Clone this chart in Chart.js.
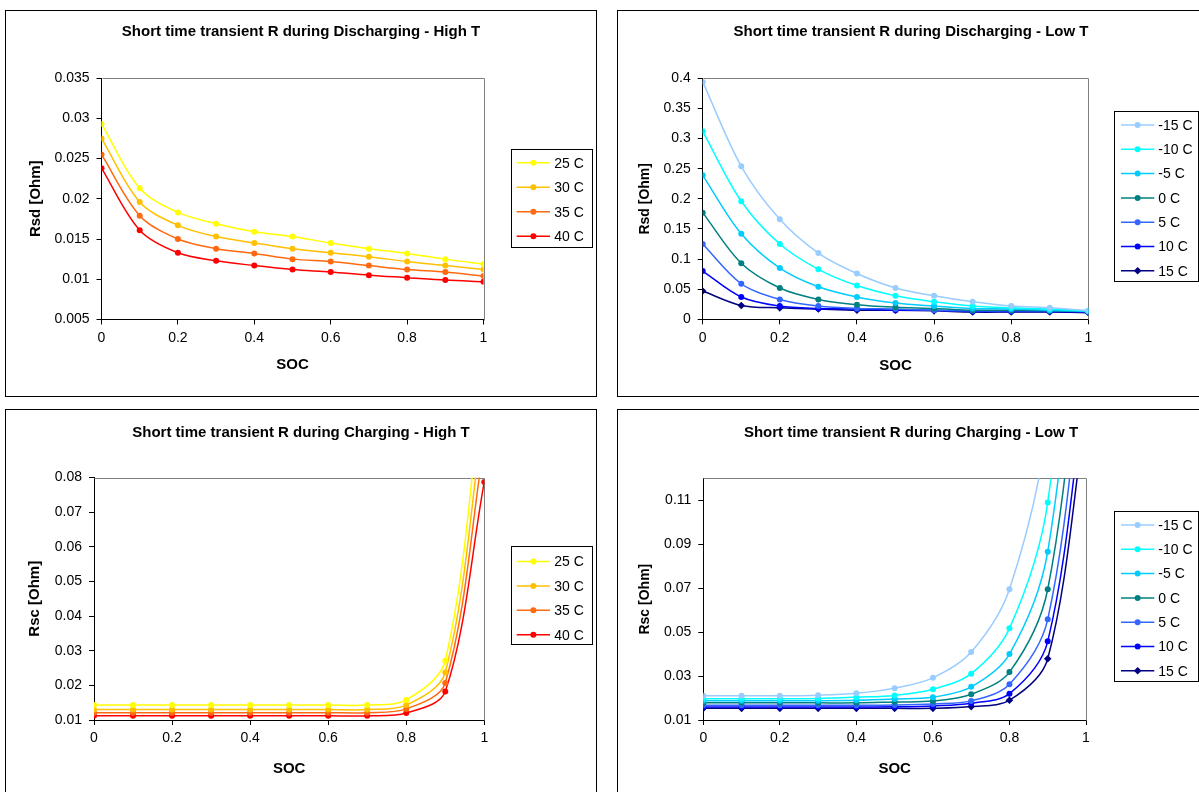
<!DOCTYPE html>
<html><head><meta charset="utf-8">
<script src="https://cdn.jsdelivr.net/npm/chart.js@4.4.1/dist/chart.umd.min.js"></script>
<style>
html,body{margin:0;padding:0;background:#fff}
body{width:1199px;height:792px;overflow:hidden;position:relative}
.box{position:absolute;border:1px solid #000;box-sizing:border-box}
canvas{position:absolute}
</style></head><body>
<div class="box" style="left:5px;top:10px;width:592px;height:387px"></div>
<div class="box" style="left:617px;top:10px;width:592px;height:387px"></div>
<div class="box" style="left:5px;top:409px;width:592px;height:400px"></div>
<div class="box" style="left:617px;top:409px;width:592px;height:400px"></div>
<canvas id="c1" width="592" height="387" style="left:5px;top:10px"></canvas>
<canvas id="c2" width="592" height="387" style="left:617px;top:10px"></canvas>
<canvas id="c3" width="592" height="387" style="left:5px;top:409px"></canvas>
<canvas id="c4" width="592" height="387" style="left:617px;top:409px"></canvas>
<script>
// ---------- data ----------
const soc = [0, 0.1, 0.2, 0.3, 0.4, 0.5, 0.6, 0.7, 0.8, 0.9, 1];
const xTicks = [0, 0.2, 0.4, 0.6, 0.8, 1];

const highLabels = ['25 C', '30 C', '35 C', '40 C'];
const lowLabels = ['-15 C', '-10 C', '-5 C', '0 C', '5 C', '10 C', '15 C'];

// Discharging - High T (Rsd)
const dH25 = [0.0293, 0.0213, 0.0183, 0.0169, 0.0159, 0.0153, 0.0145, 0.0138, 0.0132, 0.0125, 0.0119];
const dH30 = [0.0275, 0.0196, 0.0167, 0.0153, 0.0145, 0.0138, 0.0133, 0.0128, 0.0122, 0.0117, 0.0112];
const dH35 = [0.0255, 0.0179, 0.0150, 0.0138, 0.0132, 0.0125, 0.0122, 0.0117, 0.0112, 0.0109, 0.0104];
const dH40 = [0.0238, 0.0161, 0.0133, 0.0123, 0.0117, 0.0112, 0.0109, 0.0105, 0.0102, 0.0099, 0.0097];
const yTicksDH = [0.005, 0.01, 0.015, 0.02, 0.025, 0.03, 0.035];

// Discharging - Low T (Rsd)
const dLm15 = [0.394, 0.254, 0.166, 0.110, 0.076, 0.052, 0.039, 0.029, 0.022, 0.019, 0.014];
const dLm10 = [0.312, 0.196, 0.125, 0.083, 0.056, 0.039, 0.029, 0.022, 0.019, 0.017, 0.014];
const dLm5  = [0.239, 0.142, 0.085, 0.054, 0.037, 0.027, 0.022, 0.018, 0.017, 0.015, 0.013];
const dL0   = [0.177, 0.093, 0.052, 0.033, 0.024, 0.020, 0.018, 0.015, 0.015, 0.014, 0.013];
const dL5   = [0.125, 0.059, 0.033, 0.022, 0.018, 0.017, 0.015, 0.014, 0.014, 0.014, 0.013];
const dL10  = [0.080, 0.037, 0.022, 0.018, 0.017, 0.015, 0.015, 0.013, 0.013, 0.013, 0.012];
const dL15  = [0.047, 0.023, 0.019, 0.017, 0.015, 0.015, 0.014, 0.012, 0.012, 0.012, 0.011];
const yTicksDL = [0, 0.05, 0.1, 0.15, 0.2, 0.25, 0.3, 0.35, 0.4];

// Charging - High T (Rsc)
const cH25 = [0.0143, 0.0143, 0.0143, 0.0143, 0.0143, 0.0143, 0.0143, 0.0143, 0.0158, 0.0271, 0.112];
const cH30 = [0.0130, 0.0130, 0.0130, 0.0130, 0.0130, 0.0130, 0.0130, 0.0130, 0.0143, 0.0237, 0.100];
const cH35 = [0.0121, 0.0121, 0.0121, 0.0121, 0.0121, 0.0121, 0.0121, 0.0121, 0.0132, 0.0207, 0.090];
const cH40 = [0.0112, 0.0112, 0.0112, 0.0112, 0.0112, 0.0112, 0.0112, 0.0112, 0.0120, 0.0182, 0.0787];
const yTicksCH = [0.01, 0.02, 0.03, 0.04, 0.05, 0.06, 0.07, 0.08];

// Charging - Low T (Rsc)
const cLm15 = [0.0210, 0.0210, 0.0210, 0.0213, 0.0222, 0.0245, 0.0292, 0.0409, 0.0695, 0.146, 0.37];
const cLm10 = [0.0197, 0.0197, 0.0197, 0.0198, 0.0204, 0.0212, 0.0240, 0.0311, 0.0517, 0.109, 0.30];
const cLm5  = [0.0188, 0.0188, 0.0188, 0.0188, 0.0190, 0.0196, 0.0204, 0.0251, 0.0400, 0.0866, 0.25];
const cL0   = [0.0178, 0.0178, 0.0178, 0.0178, 0.0178, 0.0182, 0.0186, 0.0217, 0.0318, 0.0695, 0.21];
const cL5   = [0.0167, 0.0167, 0.0167, 0.0167, 0.0167, 0.0168, 0.0173, 0.0187, 0.0263, 0.0558, 0.185];
const cL10  = [0.0159, 0.0159, 0.0159, 0.0159, 0.0159, 0.0160, 0.0164, 0.0176, 0.0220, 0.0458, 0.165];
const cL15  = [0.0153, 0.0153, 0.0153, 0.0153, 0.0153, 0.0153, 0.0153, 0.0161, 0.0190, 0.0379, 0.15];
const yTicksCL = [0.01, 0.03, 0.05, 0.07, 0.09, 0.11];

// ---------- styles ----------
const highColors = ['#FFFF00', '#FFC000', '#FF6A10', '#FF0000'];
const lowColors = ['#99CCFF', '#00FFFF', '#00CCFF', '#008080', '#3366FF', '#0000FF', '#000080'];
const lowStyles = ['circle', 'circle', 'circle', 'circle', 'circle', 'circle', 'rectRot'];

Chart.defaults.font.family = '"Liberation Sans", Arial, Helvetica, sans-serif';
Chart.defaults.color = '#000';

function fmt(v) { return String(+v.toFixed(4)); }

function makeSets(arrs, labels, colors, styles) {
  return arrs.map((a, i) => ({
    label: labels[i],
    data: soc.map((x, k) => ({x: x, y: a[k]})),
    borderColor: colors[i],
    backgroundColor: colors[i],
    pointBackgroundColor: colors[i],
    pointBorderColor: colors[i],
    pointStyle: styles ? styles[i] : 'circle',
    pointRadius: styles && styles[i] === 'rectRot' ? 3.8 : 3,
    pointBorderWidth: 0,
    borderWidth: 1.5,
    tension: 0.33,
    fill: false
  }));
}

const decoPlugin = {
  id: 'deco',
  beforeDatasetsDraw(chart, args, o) {
    const a = chart.chartArea, ctx = chart.ctx;
    ctx.save();
    ctx.strokeStyle = '#808080';
    ctx.lineWidth = 1;
    ctx.beginPath();
    ctx.moveTo(Math.round(a.left) + 0.5, Math.round(a.top) + 0.5);
    ctx.lineTo(Math.round(a.right) + 0.5, Math.round(a.top) + 0.5);
    ctx.lineTo(Math.round(a.right) + 0.5, Math.round(a.bottom) + 0.5);
    ctx.stroke();
    ctx.restore();
  },
  afterDraw(chart, args, o) {
    const ctx = chart.ctx;
    ctx.save();
    // title
    ctx.fillStyle = '#000';
    ctx.font = 'bold ' + o.titleSize + 'px "Liberation Sans", Arial, sans-serif';
    ctx.textAlign = 'center';
    ctx.textBaseline = 'middle';
    ctx.fillText(o.title, o.titleX, o.titleY);
    // legend
    const L = o.legend;
    ctx.strokeStyle = '#000';
    ctx.lineWidth = 1;
    ctx.strokeRect(L.x + 0.5, L.y + 0.5, L.w, L.h);
    ctx.font = '14px "Liberation Sans", Arial, sans-serif';
    ctx.textAlign = 'left';
    chart.data.datasets.forEach((ds, i) => {
      const y = L.y0 + i * L.dy;
      ctx.strokeStyle = ds.borderColor;
      ctx.lineWidth = 1.5;
      ctx.beginPath();
      ctx.moveTo(L.lx1, y);
      ctx.lineTo(L.lx2, y);
      ctx.stroke();
      ctx.fillStyle = ds.borderColor;
      Chart.helpers.drawPoint(ctx, {pointStyle: ds.pointStyle, radius: ds.pointRadius, rotation: 0, borderWidth: 0}, (L.lx1 + L.lx2) / 2, y);
      ctx.fillStyle = '#000';
      ctx.fillText(ds.label, L.tx, y + 1);
    });
    ctx.restore();
  }
};

function build(id, sets, p) {
  const W = 592, H = 387;
  const lhY = p.yTitleSize * 1.2, lhX = 15 * 1.2;
  const padLeft = p.yTitleX - lhY / 2;
  const yW = p.area.l - padLeft;
  const xH = p.socY + lhX / 2 - p.area.b;
  const padBottom = H - p.area.b - xH;
  new Chart(document.getElementById(id), {
    type: 'line',
    data: {datasets: sets},
    plugins: [decoPlugin],
    options: {
      responsive: false,
      animation: false,
      events: [],
      layout: {padding: {left: padLeft, top: p.area.t, right: W - p.area.r, bottom: padBottom}},
      elements: {line: {capBezierPoints: false}},
      plugins: {
        legend: {display: false},
        tooltip: {enabled: false},
        title: {display: false},
        deco: {title: p.title, titleX: p.titleX, titleY: p.titleY, titleSize: 15, legend: p.legend}
      },
      scales: {
        x: {
          type: 'linear', min: 0, max: 1,
          afterBuildTicks: s => { s.ticks = xTicks.map(v => ({value: v})); },
          afterFit: s => { s.height = xH; },
          grid: {drawOnChartArea: false, drawTicks: true, tickLength: 5, color: '#000', lineWidth: 1},
          border: {display: true, color: '#000', width: 1},
          ticks: {color: '#000', font: {size: 14}, padding: 5, maxRotation: 0, autoSkip: false, callback: v => fmt(v)},
          title: {display: true, text: 'SOC', color: '#000', font: {size: 15, weight: 'bold'}, padding: 0}
        },
        y: {
          type: 'linear', min: p.yMin, max: p.yMax,
          afterBuildTicks: s => { s.ticks = p.yTicks.map(v => ({value: v})); },
          afterFit: s => { s.width = yW; },
          grid: {drawOnChartArea: false, drawTicks: true, tickLength: 5, color: '#000', lineWidth: 1},
          border: {display: true, color: '#000', width: 1},
          ticks: {color: '#000', font: {size: 14}, padding: 7, autoSkip: false, callback: v => fmt(v)},
          title: {display: true, text: p.yTitle, color: '#000', font: {size: p.yTitleSize, weight: 'bold'}, padding: 0}
        }
      }
    }
  });
}

build('c1', makeSets([dH25, dH30, dH35, dH40], highLabels, highColors, null), {
  area: {l: 96.5, r: 478.5, t: 68, b: 309.5}, yTitleX: 31, yTitleSize: 15, socY: 355,
  yMin: 0.005, yMax: 0.035, yTicks: yTicksDH, yTitle: 'Rsd [Ohm]',
  title: 'Short time transient R during Discharging - High T', titleX: 296, titleY: 22,
  legend: {x: 506, y: 139, w: 81, h: 98, lx1: 511.7, lx2: 545, tx: 549.3, y0: 152.7, dy: 24.5}
});
build('c2', makeSets([dLm15, dLm10, dLm5, dL0, dL5, dL10, dL15], lowLabels, lowColors, lowStyles), {
  area: {l: 85.7, r: 471.3, t: 68.3, b: 309.3}, yTitleX: 28, yTitleSize: 14, socY: 356,
  yMin: 0, yMax: 0.4, yTicks: yTicksDL, yTitle: 'Rsd [Ohm]',
  title: 'Short time transient R during Discharging - Low T', titleX: 294, titleY: 22,
  legend: {x: 497, y: 101, w: 84, h: 170, lx1: 504, lx2: 537.3, tx: 541.3, y0: 115, dy: 24.3}
});
build('c3', makeSets([cH25, cH30, cH35, cH40], highLabels, highColors, null), {
  area: {l: 89, r: 479.3, t: 68.5, b: 311}, yTitleX: 30, yTitleSize: 15, socY: 360,
  yMin: 0.01, yMax: 0.08, yTicks: yTicksCH, yTitle: 'Rsc [Ohm]',
  title: 'Short time transient R during Charging - High T', titleX: 296, titleY: 24,
  legend: {x: 506, y: 137, w: 81, h: 98, lx1: 511.7, lx2: 545, tx: 549.3, y0: 152.5, dy: 24.4}
});
build('c4', makeSets([cLm15, cLm10, cLm5, cL0, cL5, cL10, cL15], lowLabels, lowColors, lowStyles), {
  area: {l: 86.3, r: 469, t: 69.3, b: 311}, yTitleX: 28, yTitleSize: 14, socY: 360,
  yMin: 0.01, yMax: 0.12, yTicks: yTicksCL, yTitle: 'Rsc [Ohm]',
  title: 'Short time transient R during Charging - Low T', titleX: 294, titleY: 24,
  legend: {x: 497, y: 102, w: 84, h: 170, lx1: 504, lx2: 537.3, tx: 541.3, y0: 116, dy: 24.3}
});
</script>
</body></html>
